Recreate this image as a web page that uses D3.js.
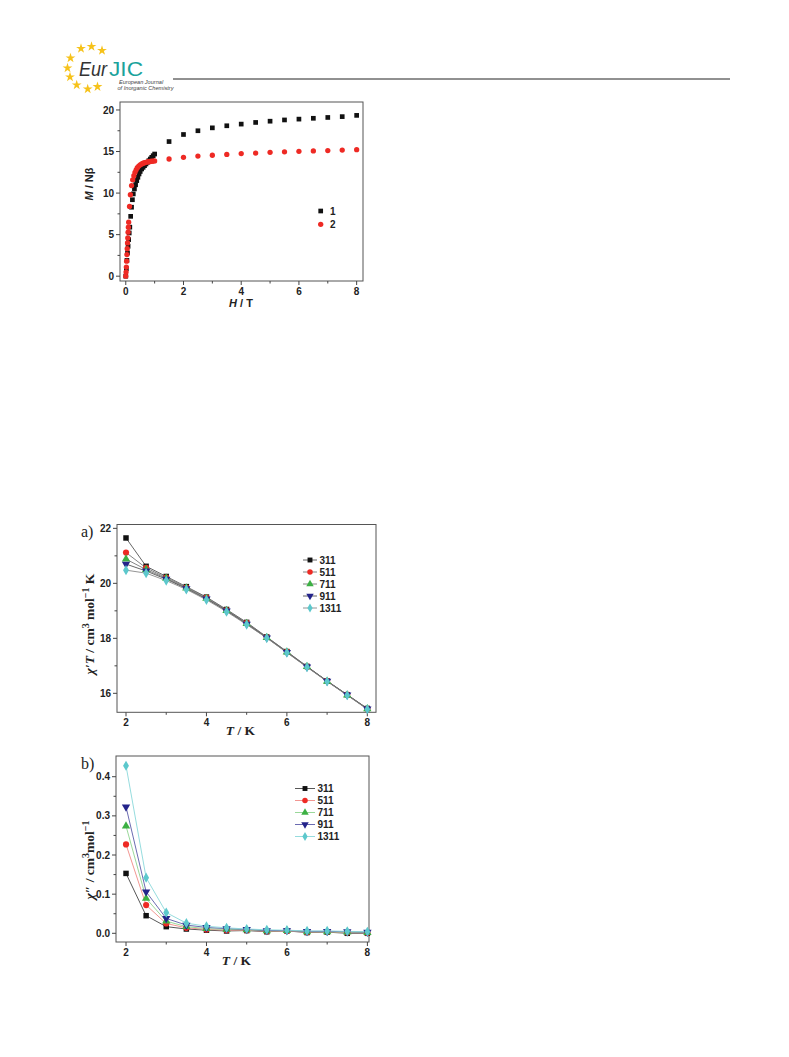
<!DOCTYPE html>
<html><head><meta charset="utf-8">
<script src="https://cdn.jsdelivr.net/npm/d3@7"></script>
<style>
html,body{margin:0;padding:0;background:#fff;}
svg{display:block;}
</style></head>
<body>
<svg id="page" width="789" height="1057"></svg>
<script>
// ---------- DATA ----------
// Chart 1 : M vs H
const field1 = [0,0.02,0.04,0.06,0.08,0.1,0.12,0.14,0.17,0.2,0.23,0.26,0.3,0.34,0.38,0.42,0.46,0.5,0.55,0.6,0.65,0.7,0.75,0.8,0.85,0.9,0.95,1.0,1.5,2,2.5,3,3.5,4,4.5,5,5.5,6,6.5,7,7.5,8];
const moment1 = [0,0.9,1.9,2.8,3.6,4.4,5.2,5.9,7.2,8.3,9.2,9.9,10.5,11.0,11.5,11.9,12.3,12.6,12.9,13.1,13.3,13.5,13.7,13.9,14.1,14.3,14.5,14.7,16.2,17.05,17.5,17.85,18.1,18.3,18.5,18.65,18.8,18.9,19.0,19.1,19.2,19.35];
const field2 = [0,0.01,0.02,0.03,0.04,0.05,0.06,0.07,0.08,0.09,0.1,0.13,0.16,0.2,0.24,0.28,0.32,0.36,0.4,0.45,0.5,0.55,0.6,0.65,0.7,0.75,0.8,0.85,0.9,0.95,1.0,1.5,2,2.5,3,3.5,4,4.5,5,5.5,6,6.5,7,7.5,8];
const moment2 = [0,0.5,1.1,1.8,2.6,3.3,4.0,4.6,5.3,5.9,6.5,8.4,9.8,10.9,11.6,12.1,12.5,12.8,13.05,13.25,13.4,13.5,13.6,13.65,13.7,13.75,13.78,13.8,13.83,13.85,13.87,14.1,14.3,14.45,14.55,14.65,14.75,14.82,14.9,14.97,15.02,15.07,15.12,15.17,15.22];
const compounds = ["1","2"];

// Charts a/b : temperature and frequencies
const temps = [2,2.5,3,3.5,4,4.5,5,5.5,6,6.5,7,7.5,8];
const freqs = ["311","511","711","911","1311"];
// chi'T
const chiT311  = [21.65,20.62,20.25,19.88,19.50,19.05,18.58,18.05,17.52,16.98,16.45,15.95,15.45];
const chiT511  = [21.12,20.56,20.21,19.85,19.48,19.03,18.56,18.04,17.51,16.97,16.45,15.95,15.44];
const chiT711  = [20.88,20.50,20.18,19.83,19.45,19.01,18.54,18.03,17.50,16.97,16.44,15.94,15.44];
const chiT911  = [20.70,20.45,20.15,19.81,19.43,19.00,18.52,18.02,17.49,16.96,16.44,15.94,15.43];
const chiT1311 = [20.48,20.37,20.10,19.78,19.40,18.97,18.50,18.01,17.48,16.95,16.43,15.93,15.42];
// chi''
const chi2_311  = [0.153,0.045,0.017,0.011,0.008,0.006,0.007,0.004,0.006,0.002,0.003,0.000,0.000];
const chi2_511  = [0.227,0.072,0.025,0.014,0.010,0.008,0.008,0.005,0.006,0.003,0.004,0.002,0.001];
const chi2_711  = [0.274,0.089,0.031,0.017,0.012,0.010,0.009,0.006,0.007,0.004,0.004,0.003,0.002];
const chi2_911  = [0.323,0.106,0.038,0.021,0.015,0.012,0.010,0.007,0.007,0.005,0.005,0.004,0.003];
const chi2_1311 = [0.428,0.142,0.053,0.026,0.018,0.014,0.011,0.009,0.008,0.006,0.006,0.005,0.004];

const ticks1x = [0,2,4,6,8], ticks1y = [0,5,10,15,20];
const ticksTx = [2,4,6,8];
const ticksAy = [16,18,20,22];
const ticksBy = [0.0,0.1,0.2,0.3,0.4];

// ---------- STYLE ----------
const colors = ["#111111","#ee2a24","#3cb043","#23238a","#5cc8cc"];
const lineColorsB = ["#444444","#f08a85","#8fd48f","#5a5aa8","#8ad8da"];
const symbolTypes = [d3.symbolSquare,d3.symbolCircle,d3.symbolTriangle,d3.symbolTriangle,d3.symbolDiamond];
const symbolRot = [0,0,0,180,0];
const SANS = "'Liberation Sans', Arial, sans-serif";
const SERIF = "'Liberation Serif', 'Times New Roman', serif";

const svg = d3.select("#page");
svg.append("rect").attr("width",789).attr("height",1057).attr("fill","#fff");

// ---------- HEADER / LOGO ----------
const starPts = [[81,48.5],[91.5,46.5],[102,50.5],[70.5,58],[67.5,68],[70,77],[76.7,85],[87.7,89],[97.5,86.7]];
svg.append("g").selectAll("path").data(starPts).join("path")
  .attr("d", d3.symbol(d3.symbolStar, 30))
  .attr("transform", d=>`translate(${d[0]},${d[1]})`)
  .attr("fill","#f6c21a");
svg.append("text").attr("x",79).attr("y",75.5)
  .attr("font-family",SANS).attr("font-size",20).attr("font-style","italic").attr("fill","#333")
  .attr("textLength",28).attr("lengthAdjust","spacingAndGlyphs")
  .text("Eur");
svg.append("text").attr("x",109).attr("y",75.5)
  .attr("font-family",SANS).attr("font-size",20).attr("fill","#1ba39c")
  .attr("textLength",34).attr("lengthAdjust","spacingAndGlyphs")
  .text("JIC");
svg.append("text").attr("x",119).attr("y",83.5)
  .attr("font-family",SANS).attr("font-size",5.6).attr("font-style","italic").attr("fill","#444")
  .text("European Journal");
svg.append("text").attr("x",117.5).attr("y",89.5)
  .attr("font-family",SANS).attr("font-size",5.6).attr("font-style","italic").attr("fill","#444")
  .text("of Inorganic Chemistry");
svg.append("line").attr("x1",173).attr("x2",730).attr("y1",79).attr("y2",79)
  .attr("stroke","#222").attr("stroke-width",1);

// ---------- helpers ----------
function frame(x0,x1,y0,y1){
  svg.append("rect").attr("x",x0).attr("y",y0).attr("width",x1-x0).attr("height",y1-y0)
    .attr("fill","none").attr("stroke","#555").attr("stroke-width",1);
}
function axes(x, y, xt, yt, xMinor, yMinor, fmtY, fs){
  const [xa,xb] = x.range(); const [yb,ya] = y.range();
  const g = svg.append("g").attr("font-family",SANS).attr("font-weight","bold").attr("font-size",fs).attr("fill","#222");
  xt.forEach(v=>{
    g.append("line").attr("x1",x(v)).attr("x2",x(v)).attr("y1",yb).attr("y2",yb+4).attr("stroke","#444");
    g.append("text").attr("x",x(v)).attr("y",yb+14).attr("text-anchor","middle").text(v);
  });
  xMinor.forEach(v=>{
    g.append("line").attr("x1",x(v)).attr("x2",x(v)).attr("y1",yb).attr("y2",yb+2.5).attr("stroke","#444");
  });
  yt.forEach(v=>{
    g.append("line").attr("x1",xa-4).attr("x2",xa).attr("y1",y(v)).attr("y2",y(v)).attr("stroke","#444");
    g.append("text").attr("x",xa-6).attr("y",y(v)+3.6).attr("text-anchor","end").text(fmtY(v));
  });
  yMinor.forEach(v=>{
    g.append("line").attr("x1",xa-2.5).attr("x2",xa).attr("y1",y(v)).attr("y2",y(v)).attr("stroke","#444");
  });
}

// ---------- CHART 1 ----------
{
  const x = d3.scaleLinear().domain([-0.2,8.22]).range([120,363]);
  const y = d3.scaleLinear().domain([-0.58,20.96]).range([281,102]);
  frame(120,363,102,281);
  axes(x,y,ticks1x,ticks1y,[1,3,5,7],[2.5,7.5,12.5,17.5],d=>d,10);
  const series = [
    {h:field1,m:moment1,sym:d3.symbolSquare,c:"#111",size:22},
    {h:field2,m:moment2,sym:d3.symbolCircle,c:"#ee2a24",size:22}
  ];
  series.forEach(s=>{
    svg.append("g").selectAll("path").data(s.h.map((h,i)=>[h,s.m[i]])).join("path")
      .attr("d",d3.symbol(s.sym,s.size))
      .attr("transform",d=>`translate(${x(d[0])},${y(d[1])})`)
      .attr("fill",s.c);
  });
  // legend
  const leg = svg.append("g").attr("font-family",SANS).attr("font-weight","bold").attr("font-size",10).attr("fill","#222");
  series.forEach((s,i)=>{
    const ly = 211 + i*13.3;
    leg.append("path").attr("d",d3.symbol(s.sym,s.size)).attr("transform",`translate(320.7,${ly})`).attr("fill",s.c);
    leg.append("text").attr("x",330).attr("y",ly+3.6).text(compounds[i]);
  });
  // titles
  const yt = svg.append("text").attr("transform","translate(93,184) rotate(-90)")
    .attr("text-anchor","middle").attr("font-family",SANS).attr("font-weight","bold").attr("font-size",11).attr("fill","#222");
  yt.append("tspan").attr("font-style","italic").text("M");
  yt.append("tspan").text(" / Nβ");
  const xt = svg.append("text").attr("x",241).attr("y",307)
    .attr("text-anchor","middle").attr("font-family",SANS).attr("font-weight","bold").attr("font-size",11).attr("fill","#222");
  xt.append("tspan").attr("font-style","italic").text("H");
  xt.append("tspan").text(" / T");
}

// ---------- CHART a / b ----------
function freqChart(opt){
  const x = d3.scaleLinear().domain(opt.xd).range([opt.x0,opt.x1]);
  const y = d3.scaleLinear().domain(opt.yd).range([opt.y1,opt.y0]);
  frame(opt.x0,opt.x1,opt.y0,opt.y1);
  axes(x,y,ticksTx,opt.yt,[3,5,7],opt.ym,opt.fmt,10);
  const line = d3.line().x((d,i)=>x(temps[i])).y(d=>y(d));
  opt.data.forEach((vals,k)=>{
    svg.append("path").attr("d",line(vals)).attr("fill","none")
      .attr("stroke",opt.lineCols[k]).attr("stroke-width",0.9);
  });
  opt.data.forEach((vals,k)=>{
    svg.append("g").selectAll("path").data(vals).join("path")
      .attr("d",d3.symbol(symbolTypes[k],30))
      .attr("transform",(d,i)=>`translate(${x(temps[i])},${y(d)}) rotate(${symbolRot[k]})`)
      .attr("fill",colors[k]);
  });
  // legend
  const leg = svg.append("g").attr("font-family",SANS).attr("font-weight","bold").attr("font-size",10).attr("fill","#222");
  freqs.forEach((f,k)=>{
    const ly = opt.legY + k*12;
    leg.append("line").attr("x1",opt.legX0).attr("x2",opt.legX1).attr("y1",ly).attr("y2",ly)
      .attr("stroke",opt.lineCols[k]).attr("stroke-width",0.9);
    leg.append("path").attr("d",d3.symbol(symbolTypes[k],24))
      .attr("transform",`translate(${(opt.legX0+opt.legX1)/2},${ly}) rotate(${symbolRot[k]})`)
      .attr("fill",colors[k]);
    leg.append("text").attr("x",opt.legX1+2.5).attr("y",ly+3.6).text(f);
  });
  // panel label
  svg.append("text").attr("x",81).attr("y",opt.y0+12.5).attr("font-family",SERIF).attr("font-size",16).attr("fill","#222").text(opt.panel);
  // x title
  const xt = svg.append("text").attr("x",(opt.x0+opt.x1)/2 - 6).attr("y",opt.y1+23)
    .attr("text-anchor","middle").attr("font-family",SERIF).attr("font-weight","bold").attr("font-size",13.5).attr("fill","#222");
  xt.append("tspan").attr("font-style","italic").text("T");
  xt.append("tspan").text(" / K");
  // y title
  const yt = svg.append("text").attr("transform",`translate(94,${opt.ytY}) rotate(-90)`)
    .attr("text-anchor","middle").attr("font-family",SERIF).attr("font-weight","bold").attr("font-size",13.5).attr("fill","#222");
  opt.ytitle(yt);
}

freqChart({
  x0:117,x1:376,y0:524.5,y1:712.3,xd:[1.776,8.216],yd:[15.31,22.14],
  yt:ticksAy,ym:[17,19,21],fmt:d=>d,
  data:[chiT311,chiT511,chiT711,chiT911,chiT1311],
  lineCols:["#555","#777","#777","#555","#888"],
  legX0:303,legX1:317,legY:560,panel:"a)",ytY:624,
  ytitle:t=>{
    t.append("tspan").attr("font-style","italic").text("χ′T");
    t.append("tspan").text(" / cm");
    t.append("tspan").attr("dy",-5).attr("font-size",10).text("3");
    t.append("tspan").attr("dy",5).text(" mol");
    t.append("tspan").attr("dy",-5).attr("font-size",10).text("−1");
    t.append("tspan").attr("dy",5).text(" K");
  }
});

freqChart({
  x0:116,x1:369,y0:756,y1:942,xd:[1.751,8.04],yd:[-0.0222,0.4529],
  yt:ticksBy,ym:[0.05,0.15,0.25,0.35],fmt:d=>d.toFixed(1),
  data:[chi2_311,chi2_511,chi2_711,chi2_911,chi2_1311],
  lineCols:lineColorsB,
  legX0:295,legX1:315,legY:788.5,panel:"b)",ytY:860,
  ytitle:t=>{
    t.append("tspan").attr("font-style","italic").text("χ″");
    t.append("tspan").text(" / cm");
    t.append("tspan").attr("dy",-5).attr("font-size",10).text("3");
    t.append("tspan").attr("dy",5).text("mol");
    t.append("tspan").attr("dy",-5).attr("font-size",10).text("−1");
  }
});
</script>
</body></html>
